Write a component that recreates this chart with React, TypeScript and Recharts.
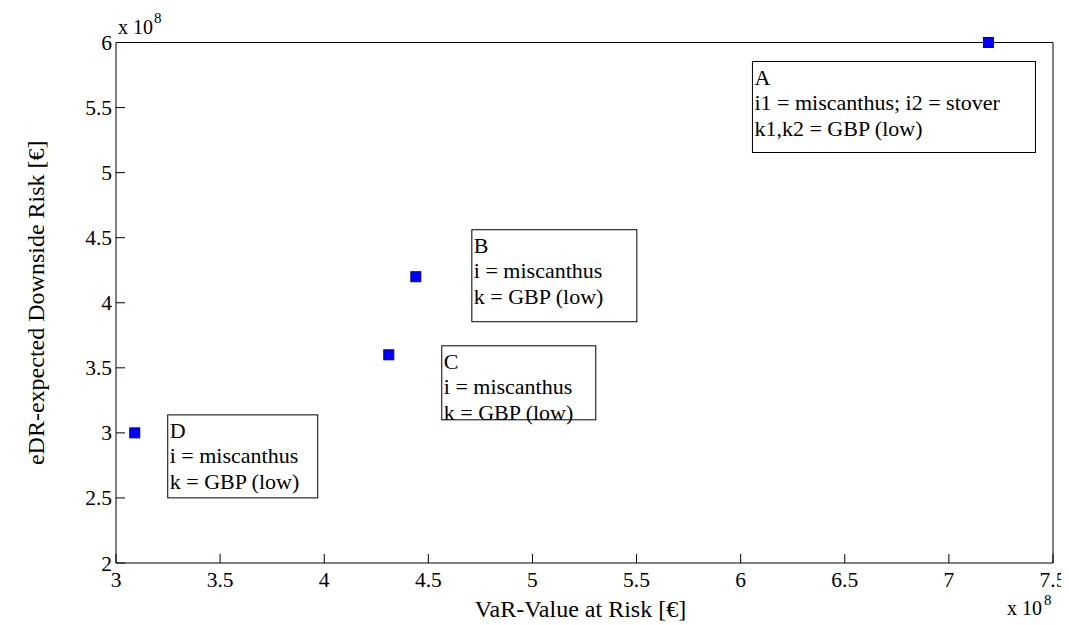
import React from 'react';
import { ScatterChart, Scatter, XAxis, YAxis } from 'recharts';

// values in euros (axes are in units of 1e8)
const pointNames = ['A', 'B', 'C', 'D'];
const varValues = [7.19e8, 4.44e8, 4.31e8, 3.09e8];
const edrValues = [6.0e8, 4.2e8, 3.6e8, 3.0e8];
const pointNotes = [
  ['A', 'i1 = miscanthus; i2 = stover', 'k1,k2 = GBP (low)'],
  ['B', 'i = miscanthus', 'k = GBP (low)'],
  ['C', 'i = miscanthus', 'k = GBP (low)'],
  ['D', 'i = miscanthus', 'k = GBP (low)'],
];
const xTicks = [3e8, 3.5e8, 4e8, 4.5e8, 5e8, 5.5e8, 6e8, 6.5e8, 7e8, 7.5e8];
const yTicks = [2e8, 2.5e8, 3e8, 3.5e8, 4e8, 4.5e8, 5e8, 5.5e8, 6e8];

// annotation box placement relative to its marker (pixels)
const boxLayout: Record<string, { dx: number; dy: number; w: number; h: number }> = {
  A: { dx: -236, dy: 19, w: 283, h: 91 },
  B: { dx: 56, dy: -47, w: 165, h: 92 },
  C: { dx: 53, dy: -9, w: 154, h: 74 },
  D: { dx: 33, dy: -18, w: 150, h: 83 },
};

const data = pointNames.map((name, i) => ({
  name,
  x: varValues[i],
  y: edrValues[i],
  notes: pointNotes[i],
}));

const FONT = '"Liberation Serif", "Times New Roman", serif';
const TICK_LEN = 9;
const serif = (size: number) => ({ fontFamily: FONT, fontSize: size });

const fmt = (v: number) => String(Math.round(v / 1e7) / 10);

const BottomTick = ({ x, y, payload }: any) => (
  <g>
    <line x1={x} y1={y} x2={x} y2={y - TICK_LEN} stroke="#000" />
    <text x={x} y={y + 24} textAnchor="middle" style={serif(21.5)} fill="#000">
      {fmt(payload.value)}
    </text>
  </g>
);

const TopTick = ({ x, y }: any) => (
  <line x1={x} y1={y} x2={x} y2={y + TICK_LEN} stroke="#000" />
);

const LeftTick = ({ x, y, payload }: any) => (
  <g>
    <line x1={x} y1={y} x2={x + TICK_LEN} y2={y} stroke="#000" />
    <text x={x - 4} y={y} dy="0.35em" textAnchor="end" style={serif(21.5)} fill="#000">
      {fmt(payload.value)}
    </text>
  </g>
);

const RightTick = ({ x, y }: any) => (
  <line x1={x} y1={y} x2={x - TICK_LEN} y2={y} stroke="#000" />
);

const XTitle = ({ viewBox }: any) => {
  const { x, y, width } = viewBox;
  return (
    <g fill="#000">
      <text x={x + width / 2 - 4} y={y + 54} textAnchor="middle" style={serif(24)}>
        VaR-Value at Risk [€]
      </text>
      <text x={x + width - 46} y={y + 52} style={serif(20)}>x 10</text>
      <text x={x + width - 9} y={y + 42} style={serif(15)}>8</text>
    </g>
  );
};

const YTitle = ({ viewBox }: any) => {
  const { x, y, width, height } = viewBox;
  const cy = y + height / 2;
  return (
    <g fill="#000">
      <text x={36} y={cy} transform={`rotate(-90, 36, ${cy})`} textAnchor="middle" style={serif(24)}>
        eDR-expected Downside Risk [€]
      </text>
      <text x={x + width + 2} y={y - 9} style={serif(20)}>x 10</text>
      <text x={x + width + 38} y={y - 20} style={serif(15)}>8</text>
    </g>
  );
};

const MarkerWithNote = ({ cx, cy, payload }: any) => {
  const box = boxLayout[payload.name];
  const bx = cx + box.dx;
  const by = cy + box.dy;
  return (
    <g>
      <rect x={cx - 5} y={cy - 5} width={10} height={10} fill="#0000ff" stroke="#00007f" strokeWidth={1} />
      <rect x={bx} y={by} width={box.w} height={box.h} fill="#fff" stroke="#000" strokeWidth={1} />
      {payload.notes.map((line: string, i: number) => (
        <text key={i} x={bx + 2} y={by + 23 + i * 25.5} style={serif(22)} fill="#000">
          {line}
        </text>
      ))}
    </g>
  );
};

export default function App() {
  return (
    <div style={{ width: 1061, height: 617, background: '#fff', fontFamily: FONT }}>
      <ScatterChart
        width={1061}
        height={617}
        margin={{ top: 24.5, right: 6, bottom: 32, left: 48 }}
      >
        <XAxis
          xAxisId="bottom"
          dataKey="x"
          type="number"
          orientation="bottom"
          domain={[3e8, 7.5e8]}
          ticks={xTicks}
          interval={0}
          height={30}
          tickSize={0}
          tickMargin={0}
          tickLine={false}
          tick={BottomTick}
          axisLine={{ stroke: '#000' }}
          label={XTitle}
        />
        <XAxis
          xAxisId="top"
          type="number"
          orientation="top"
          domain={[3e8, 7.5e8]}
          ticks={xTicks}
          interval={0}
          height={10}
          tickSize={0}
          tickMargin={0}
          tickLine={false}
          tick={TopTick}
          axisLine={{ stroke: '#000' }}
        />
        <YAxis
          yAxisId="left"
          dataKey="y"
          type="number"
          orientation="left"
          domain={[2e8, 6e8]}
          ticks={yTicks}
          interval={0}
          width={60}
          tickSize={0}
          tickMargin={0}
          tickLine={false}
          tick={LeftTick}
          axisLine={{ stroke: '#000' }}
          label={YTitle}
        />
        <YAxis
          yAxisId="right"
          type="number"
          orientation="right"
          domain={[2e8, 6e8]}
          ticks={yTicks}
          interval={0}
          width={10}
          tickSize={0}
          tickMargin={0}
          tickLine={false}
          tick={RightTick}
          axisLine={{ stroke: '#000' }}
        />
        <Scatter
          data={data}
          xAxisId="bottom"
          yAxisId="left"
          shape={MarkerWithNote}
          isAnimationActive={false}
        />
      </ScatterChart>
    </div>
  );
}
